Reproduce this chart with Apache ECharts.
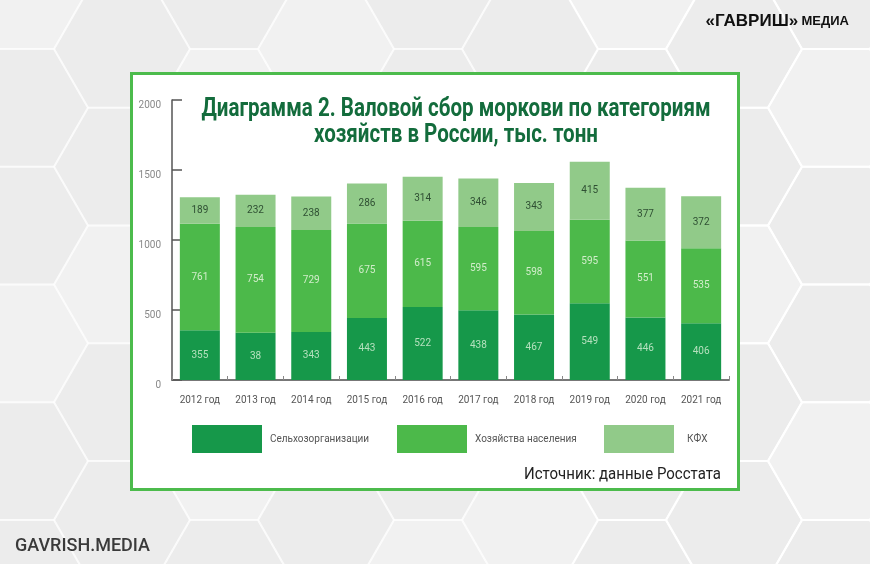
<!DOCTYPE html>
<html><head><meta charset="utf-8">
<script src="https://cdn.jsdelivr.net/npm/echarts@6/dist/echarts.min.js"></script>
<style>html,body{margin:0;padding:0;background:#ececec}#c{width:870px;height:564px}</style>
</head><body><div id="c"></div>
<script>
const categories = ['2012 год','2013 год','2014 год','2015 год','2016 год','2017 год','2018 год','2019 год','2020 год','2021 год'];
const seriesNames = ['Сельхозорганизации','Хозяйства населения','КФХ'];
const orgValues = [355, 338, 343, 443, 522, 498, 467, 549, 446, 406];
const orgLabels = ['355','38','343','443','522','438','467','549','446','406'];
const householdValues = [761, 754, 729, 675, 615, 595, 598, 595, 551, 535];
const farmValues = [189, 232, 238, 286, 314, 346, 343, 415, 377, 372];
const yTicks = [0, 500, 1000, 1500, 2000];
const titleLines = ['Диаграмма 2. Валовой сбор моркови по категориям', 'хозяйств в России, тыс. тонн'];
const sourceText = 'Источник: данные Росстата';

const FONT = 'Roboto, "Noto Sans", sans-serif';
const chart = echarts.init(document.getElementById('c'));

const ctx = document.createElement('canvas').getContext('2d');
function measure(font, txt) { ctx.font = font; return ctx.measureText(txt).width; }
const titleFont = 'bold 25px Roboto';
const titleScale = 509 / measure(titleFont, titleLines[0]);
const srcFont = '17px Roboto';
const srcScale = 197 / measure(srcFont, sourceText);

// decorative hexagon background
const hexes = [];
const R = 68, H = Math.sqrt(3) * R;
for (let c = -1; c < 10; c++) {
  for (let r = -1; r < 7; r++) {
    const cx = c * 1.5 * R + 20;
    const cy = r * H + (c % 2 ? H / 2 : 0) - 10;
    const pts = [];
    for (let k = 0; k < 6; k++) {
      const a = Math.PI / 3 * k;
      pts.push([cx + R * Math.cos(a), cy + R * Math.sin(a)]);
    }
    const right = cx > 600;
    hexes.push({type: 'polygon', z: -20, silent: true,
      shape: {points: pts},
      style: {fill: (c + r) % 3 === 0 ? 'rgba(255,255,255,0.3)' : 'rgba(255,255,255,0.08)',
              stroke: right ? 'rgba(255,255,255,0.95)' : 'rgba(255,255,255,0.5)', lineWidth: 2}});
  }
}

const legendLefts = [187, 392, 599];
const legendTextPad = [3, 3, 8];
const legends = seriesNames.map((n, i) => ({
  left: legendLefts[i], top: 420, itemWidth: 70, itemHeight: 28, icon: 'rect',
  data: [n],
  textStyle: {fontFamily: FONT, fontSize: 10, color: '#555', padding: [0, 0, 0, legendTextPad[i]]}
}));

chart.setOption({
  backgroundColor: '#ebebeb',
  animation: false,
  graphic: hexes.concat([
    {type: 'rect', z: -5, silent: true, shape: {x: 131.5, y: 73.5, width: 607, height: 416},
     style: {fill: '#ffffff', stroke: '#4cbb4c', lineWidth: 3}},
    {type: 'text', z: 10, x: 456, y: 110, scaleX: titleScale, style: {text: titleLines[0], align: 'center', verticalAlign: 'middle',
      font: titleFont, fill: '#136c3c'}},
    {type: 'text', z: 10, x: 456, y: 136, scaleX: titleScale, style: {text: titleLines[1], align: 'center', verticalAlign: 'middle',
      font: titleFont, fill: '#136c3c'}},
    {type: 'text', z: 10, x: 721, y: 475, scaleX: srcScale, style: {text: sourceText, align: 'right', verticalAlign: 'middle',
      font: srcFont, fill: '#222'}},
    {type: 'text', z: 10, x: 849, y: 21, style: {text: '{a|«ГАВРИШ»} {b|МЕДИА}', align: 'right', verticalAlign: 'middle',
      rich: {a: {fontFamily: '"Liberation Sans",Arial,sans-serif', fontWeight: 'bold', fontSize: 17, fill: '#111'},
             b: {fontFamily: '"Liberation Sans",Arial,sans-serif', fontWeight: 'bold', fontSize: 13, fill: '#111'}}}},
    {type: 'text', z: 10, x: 15, y: 546, style: {text: 'GAVRISH.MEDIA', align: 'left', verticalAlign: 'middle',
      font: '500 18px Roboto, sans-serif', fill: '#3a3a3a'}}
  ]),
  legend: legends,
  grid: {left: 172, right: 141, top: 100, bottom: 184, containLabel: false},
  xAxis: {
    type: 'category', data: categories,
    axisLine: {lineStyle: {color: '#777', width: 2}},
    axisTick: {show: true, inside: true, length: 4, lineStyle: {color: '#888'}},
    axisLabel: {interval: 0, margin: 15, fontFamily: FONT, fontSize: 10, color: '#555'}
  },
  yAxis: {
    type: 'value', min: yTicks[0], max: yTicks[yTicks.length - 1], interval: 500,
    axisLine: {show: true, lineStyle: {color: '#555', width: 1.5}},
    axisTick: {show: true, inside: true, length: 10, lineStyle: {color: '#555', width: 1.5}},
    splitLine: {show: false},
    axisLabel: {margin: 11, fontFamily: FONT, fontSize: 10, color: '#888', verticalAlign: 'top',
      formatter: v => String(v)}
  },
  series: [
    {name: seriesNames[0], type: 'bar', stack: 't', barWidth: 40, data: orgValues,
     itemStyle: {color: '#16984a'},
     label: {show: true, position: 'inside', formatter: p => orgLabels[p.dataIndex],
       fontFamily: FONT, fontSize: 10, color: '#b4e0bd'}},
    {name: seriesNames[1], type: 'bar', stack: 't', barWidth: 40, data: householdValues,
     itemStyle: {color: '#4cb94a'},
     label: {show: true, position: 'inside', fontFamily: FONT, fontSize: 10, color: '#d2edcb'}},
    {name: seriesNames[2], type: 'bar', stack: 't', barWidth: 40, data: farmValues,
     itemStyle: {color: '#91ca89'},
     label: {show: true, position: 'inside', fontFamily: FONT, fontSize: 10, color: '#2f4f33'}}
  ]
});
</script></body></html>
